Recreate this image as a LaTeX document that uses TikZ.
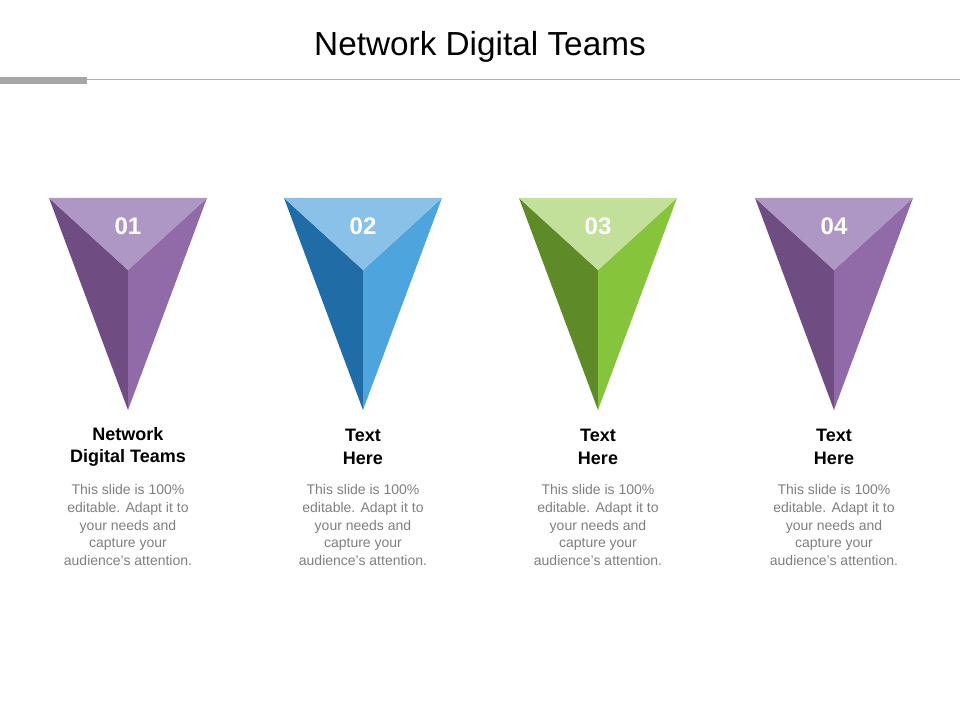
\documentclass[tikz,border=0pt]{standalone}
\usepackage{fontspec}
\setmainfont{Liberation Sans}
\definecolor{pT}{HTML}{AE97C4}\definecolor{pL}{HTML}{6F4C82}\definecolor{pR}{HTML}{916AA8}
\definecolor{bT}{HTML}{8AC1E8}\definecolor{bL}{HTML}{1F6CA6}\definecolor{bR}{HTML}{4EA5DE}
\definecolor{gT}{HTML}{C2E09A}\definecolor{gL}{HTML}{5E8B28}\definecolor{gR}{HTML}{86C43B}
\definecolor{bodyc}{HTML}{7F7F7F}
\tikzset{num/.style={text=white,font=\fontsize{18}{20}\selectfont\bfseries},
head/.style={align=center,font=\fontsize{13.5}{17}\selectfont\bfseries},
body/.style={align=center,text=bodyc,font=\fontsize{10.5}{13.3}\selectfont}}
\begin{document}
\begin{tikzpicture}[x=0.75pt,y=-0.75pt]
\useasboundingbox (0,0) rectangle (960,720);
\node[font=\fontsize{25}{30}\selectfont] (title) at (480,47) {Network Digital Teams};
\draw[gray!60,line width=0.75pt] (0,80) -- (960,80);
\fill[gray!70] (0,77) rectangle (87,84);
\foreach \cx/\T/\L/\R/\n/\h in {128/pT/pL/pR/01/{Network\\Digital Teams},363/bT/bL/bR/02/{Text\\Here},598/gT/gL/gR/03/{Text\\Here},834/pT/pL/pR/04/{Text\\Here}}{
  \coordinate (a\n) at (\cx-79,198);
  \coordinate (b\n) at (\cx+79,198);
  \coordinate (c\n) at (\cx,270);
  \coordinate (d\n) at (\cx,410);
  \fill[\L] (a\n) -- (c\n) -- (d\n) -- cycle;
  \fill[\R] (b\n) -- (c\n) -- (d\n) -- cycle;
  \fill[\T] (a\n) -- (b\n) -- (c\n) -- cycle;
  \node[num] (n\n) at (\cx,226) {\n};
  \node[head] (h\n) at (\cx,447) {\h};
  \node[body] (t\n) at (\cx,525) {This slide is 100\%\\editable. Adapt it to\\your needs and\\capture your\\audience's attention.};
}
\end{tikzpicture}
\end{document}
